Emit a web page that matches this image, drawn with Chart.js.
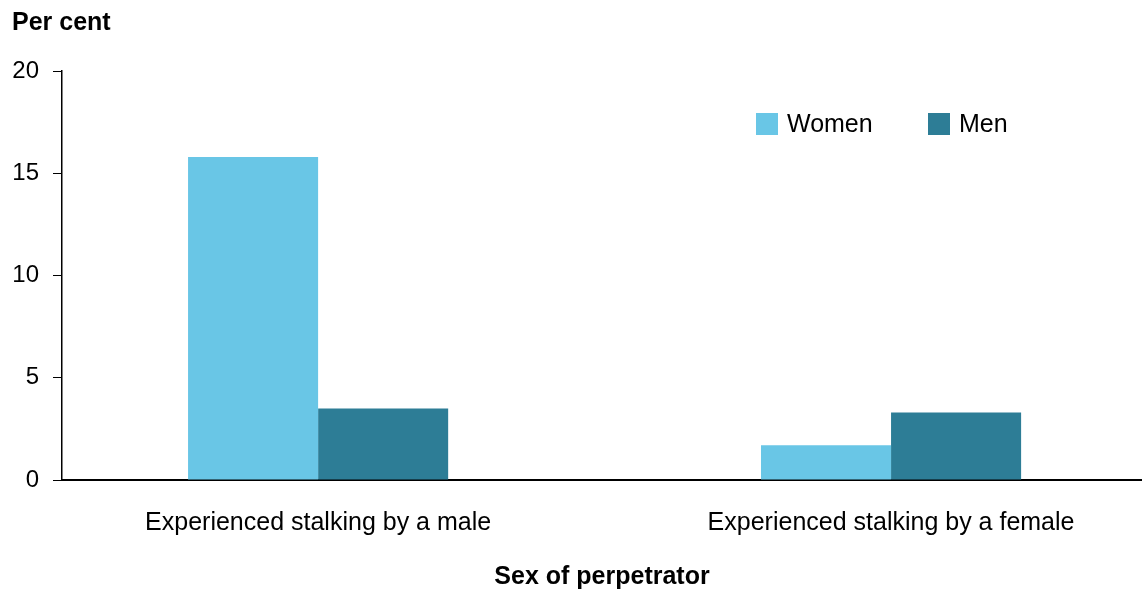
<!DOCTYPE html>
<html>
<head>
<meta charset="utf-8">
<script src="https://cdn.jsdelivr.net/npm/chart.js@4/dist/chart.umd.min.js"></script>
<style>
	html, body { margin: 0; padding: 0; background: #fff; }
	#wrap { width: 1142px; height: 592px; }
</style>
</head>
<body>
<div id="wrap"><canvas id="chart" width="1142" height="592"></canvas></div>
<script>
	const categories = ['Experienced stalking by a male', 'Experienced stalking by a female'];
	const women = [15.8, 1.7];
	const men = [3.5, 3.3];
	const yTicks = [0, 5, 10, 15, 20];

	const FONT = "'Liberation Sans', Arial, sans-serif";

	// Legend drawn inside the plot area, top right
	const insideLegend = {
		id: 'insideLegend',
		afterDraw(chart) {
			const ctx = chart.ctx;
			const items = [
				{ x: 756, label: 'Women', color: chart.data.datasets[0].backgroundColor },
				{ x: 928, label: 'Men', color: chart.data.datasets[1].backgroundColor }
			];
			ctx.save();
			ctx.font = '25px ' + FONT;
			ctx.textBaseline = 'middle';
			items.forEach(function(it){
				ctx.fillStyle = it.color;
				ctx.fillRect(it.x, 113, 22, 22);
				ctx.fillStyle = '#000';
				ctx.fillText(it.label, it.x + 31, 125);
			});
			ctx.restore();
		}
	};

	new Chart(document.getElementById('chart'), {
		type: 'bar',
		data: {
			datasets: [
				{ label: 'Women', data: women.map(function(v, i){ return { x: i, y: v }; }), backgroundColor: '#69C6E6', borderWidth: 0 },
				{ label: 'Men', data: men.map(function(v, i){ return { x: i, y: v }; }), backgroundColor: '#2D7D96', borderWidth: 0 }
			]
		},
		plugins: [insideLegend],
		options: {
			responsive: false,
			animation: false,
			categoryPercentage: 0.454,
			barPercentage: 1,
			layout: { padding: { left: 12, right: 0, top: 0, bottom: 0 } },
			plugins: {
				legend: { display: false },
				tooltip: { enabled: false },
				title: {
					display: true,
					text: 'Per cent',
					align: 'start',
					color: '#000',
					font: { family: FONT, size: 25, weight: 'bold' },
					padding: { top: 8, bottom: 33 }
				}
			},
			scales: {
				x: {
					type: 'linear',
					offset: false,
					min: -0.447,
					max: 1.438,
					afterBuildTicks: function(axis){ axis.ticks = categories.map(function(c, i){ return { value: i }; }); },
					ticks: {
						color: '#000',
						font: { family: FONT, size: 25 },
						padding: 28,
						maxRotation: 0,
						autoSkip: false,
						callback: function(v){ return categories[v]; }
					},
					grid: { display: false, drawTicks: false },
					border: { display: true, color: '#000', width: 2 },
					title: {
						display: true,
						text: 'Sex of perpetrator',
						color: '#000',
						font: { family: FONT, size: 25, weight: 'bold' },
						padding: { top: -4, bottom: 0 }
					}
				},
				y: {
					min: 0,
					max: 20,
					afterBuildTicks: function(axis){ axis.ticks = yTicks.map(function(v){ return { value: v }; }); },
					afterFit: function(axis){ axis.width = 50; },
					ticks: {
						color: '#000',
						font: { family: FONT, size: 24 },
						padding: 14
					},
					grid: { drawOnChartArea: false, drawTicks: true, tickLength: 9, color: '#000', width: 1.5 },
					border: { display: true, color: '#000', width: 1.5 }
				}
			}
		}
	});
</script>
</body>
</html>
